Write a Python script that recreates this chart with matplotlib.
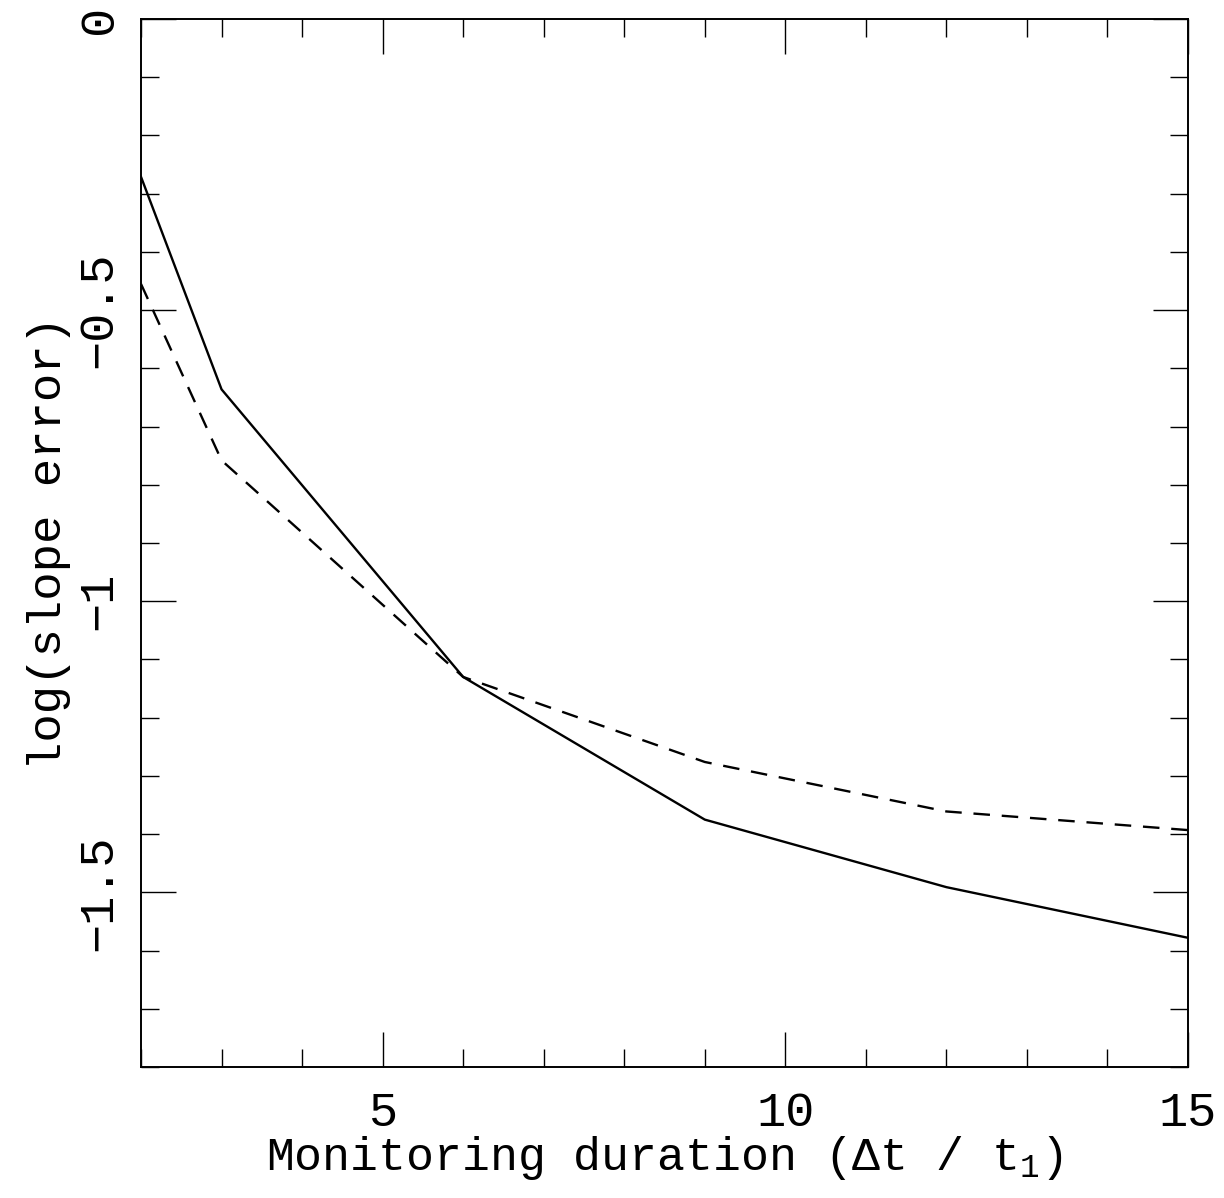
import matplotlib
matplotlib.use("Agg")
import matplotlib.pyplot as plt
from matplotlib.ticker import MultipleLocator, FuncFormatter

# monitoring duration (in units of t1) and log of slope error for two cases
duration = [2, 3, 6, 9, 12, 15]
err_solid = [-0.271, -0.636, -1.130, -1.375, -1.491, -1.578]
err_dashed = [-0.455, -0.758, -1.130, -1.276, -1.361, -1.393]

xticks = [5, 10, 15]
yticks = [0, -0.5, -1, -1.5]

plt.rcParams['font.family'] = ['Liberation Mono', 'DejaVu Sans']
plt.rcParams['mathtext.fontset'] = 'custom'
plt.rcParams['mathtext.rm'] = 'Liberation Mono'
plt.rcParams['mathtext.it'] = 'Liberation Mono'

fig = plt.figure(figsize=(12.24, 11.98), dpi=100)
ax = fig.add_axes([0.1152, 0.1093, 0.8554, 0.8748])

ax.plot(duration, err_solid, color='black', lw=1.7)
ax.plot(duration, err_dashed, color='black', lw=1.7, dashes=(7, 5))

ax.set_xlim(2, 15)
ax.set_ylim(-1.8, 0)

ax.xaxis.set_major_locator(plt.FixedLocator(xticks))
ax.xaxis.set_minor_locator(MultipleLocator(1))
ax.yaxis.set_major_locator(plt.FixedLocator(yticks))
ax.yaxis.set_minor_locator(MultipleLocator(0.1))

def fmt(v, pos):
    s = ('%g' % v).replace('-', '\u2212')
    return '0' if s == '\u22120' else s

ax.xaxis.set_major_formatter(FuncFormatter(fmt))
ax.yaxis.set_major_formatter(FuncFormatter(fmt))

ax.tick_params(which='both', direction='in', top=True, right=True, width=1.0, color='black')
ax.tick_params(which='major', length=25)
ax.tick_params(which='minor', length=13)
ax.tick_params(axis='x', which='major', labelsize=35, pad=17)
ax.tick_params(axis='y', which='major', labelsize=35, pad=14, labelrotation=90)
for lab in ax.get_yticklabels():
    lab.set_verticalalignment('center')

for sp in ax.spines.values():
    sp.set_linewidth(1.4)

ax.set_xlabel('Monitoring duration (\u0394t / t$_1$)', fontsize=33.5, labelpad=-1)
ax.set_ylabel('log(slope error)', fontsize=34, labelpad=4)

fig.savefig('out.png', dpi=100)
